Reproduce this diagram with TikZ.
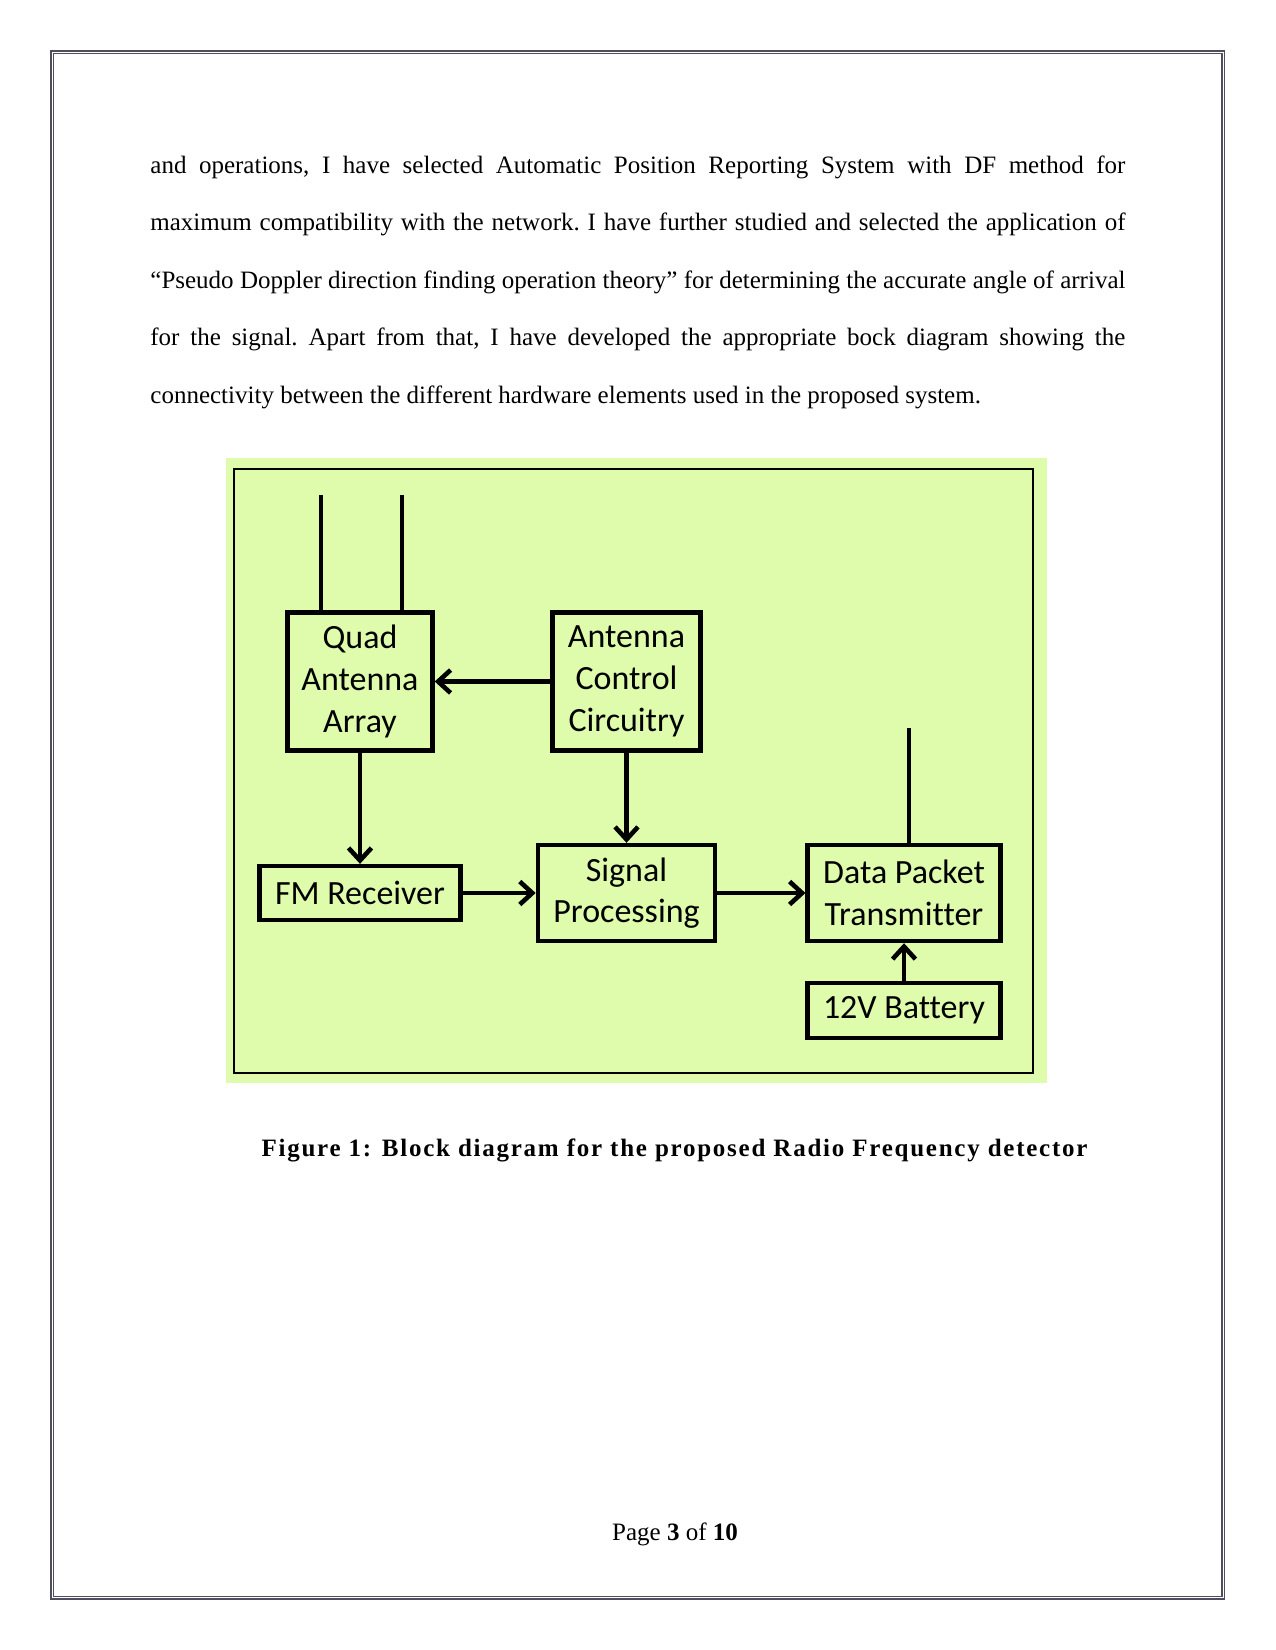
\documentclass[tikz,border=0pt]{standalone}
\usepackage{fontspec}
\setmainfont{Liberation Serif}
\newfontfamily\boxfont[Ligatures=NoCommon]{Carlito}
\newfontfamily\capfont[LetterSpace=7]{Liberation Serif}
\usetikzlibrary{arrows.meta}
\definecolor{panelgreen}{RGB}{222,252,172}
\definecolor{pageline}{RGB}{78,78,94}
\newcommand\bodysetup{\frenchspacing\hyphenpenalty=10000 \tolerance=9999 }
\tikzset{
    block/.style={draw=black,line width=2.2pt,inner sep=0pt,align=center,
        text=black,font=\boxfont\fontsize{16.3}{20}\selectfont},
    aerial/.style={draw,line width=2.2pt},
    body/.style={inner sep=0pt,text width=468pt,align=justify,
        font=\fontsize{12pt}{27.6pt}\selectfont},
    bdiagram/.style={
        every edge/.style={draw,line width=2.2pt,-{Straight Barb[length=6pt,width=11pt]}},
    }
}

\begin{document}
\begin{tikzpicture}[x=0.48pt,y=-0.48pt,bdiagram]
\useasboundingbox (0,0) rectangle (1275,1650);
% page frame
\draw[pageline,line width=0.6pt] (51,51) rectangle (1224.5,1599);
\draw[pageline,line width=0.6pt] (53.5,53.5) rectangle (1222,1596.5);
\node[body,anchor=base west] (para) at (150,173.5) {\bodysetup and operations, I have selected Automatic Position Reporting System with DF method for\linebreak
maximum compatibility with the network. I have further studied and selected the application of\linebreak
“Pseudo Doppler direction finding operation theory” for determining the accurate angle of arrival\linebreak
for the signal. Apart from that, I have developed the appropriate bock diagram showing the\linebreak
connectivity between the different hardware elements used in the proposed system.};
% figure
\fill[panelgreen] (226,458) rectangle (1047,1083);
\draw[line width=1pt] (234,469) rectangle (1033,1073);
\node[block,minimum width=69.5pt,minimum height=66.5pt] (quad) at (360,681.5) {Quad\\Antenna\\Array};
\node[block,minimum width=71pt,minimum height=66.5pt] (ctrl) at (626.5,681.5) {Antenna\\Control\\Circuitry};
\node[block,minimum width=96.5pt,minimum height=25.8pt] (fm) at (360,893) {FM Receiver};
\node[block,minimum width=85pt,minimum height=46pt] (sig) at (626.5,893) {Signal\\Processing};
\node[block,minimum width=92.4pt,minimum height=46pt] (tx) at (904,893) {Data Packet\\Transmitter};
\node[block,minimum width=92.4pt,minimum height=26.3pt] (batt) at (904,1010.5) {12V Battery};
\coordinate (qa1) at (321,495);
\coordinate (qa2) at (402,495);
\coordinate (txa) at (909,728);
\draw[aerial] (qa1) -- (qa1 |- quad.north);
\draw[aerial] (qa2) -- (qa2 |- quad.north);
\draw[aerial] (txa) -- (txa |- tx.north);
\path
    (ctrl) edge (quad)
    (quad) edge (fm)
    (ctrl) edge (sig)
    (fm) edge (sig)
    (sig) edge (tx)
    (batt) edge (tx)
;
\node[anchor=base,inner sep=0pt,font=\capfont\bfseries\fontsize{12}{14}\selectfont] (cap) at (674.5,1156) {Figure 1: Block diagram for the proposed Radio Frequency detector};
\node[anchor=base,inner sep=0pt,font=\fontsize{12}{14}\selectfont] (pgno) at (675,1540) {Page \textbf{3} of \textbf{10}};
\end{tikzpicture}
\end{document}
